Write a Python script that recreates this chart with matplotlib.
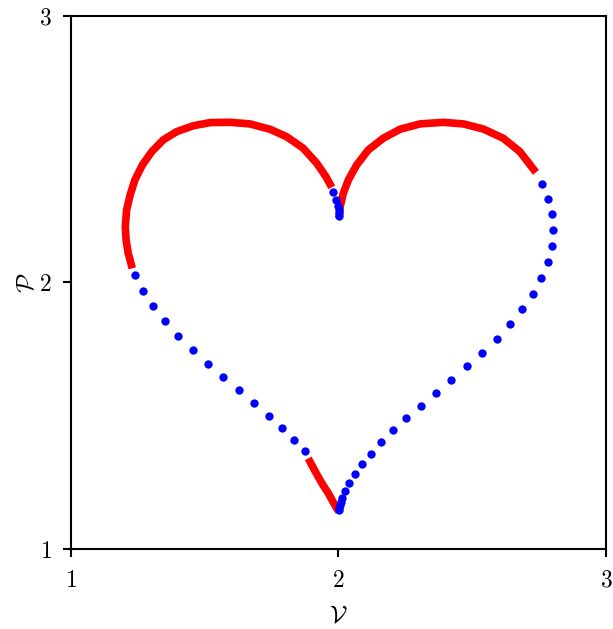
"""
하트 모양 궤적 시각화
"""
import numpy as np
import matplotlib
matplotlib.use('Agg')
import matplotlib.pyplot as plt

plt.rcParams['mathtext.fontset'] = 'cm'
plt.rcParams['font.family'] = ['cmr10', 'DejaVu Sans']
plt.rcParams['axes.formatter.use_mathtext'] = True

# 빨간 실선 구간 (V, P)
left_lobe_v = [1.229, 1.214, 1.206, 1.203, 1.208, 1.221, 1.239, 1.267, 1.302, 1.345,
               1.395, 1.457, 1.520, 1.594, 1.669, 1.744, 1.806, 1.868, 1.919, 1.953, 1.975]
left_lobe_p = [2.053, 2.110, 2.159, 2.209, 2.272, 2.328, 2.385, 2.441, 2.491, 2.535,
               2.566, 2.588, 2.600, 2.601, 2.595, 2.575, 2.547, 2.504, 2.447, 2.397, 2.357]

right_lobe_v = [2.002, 2.006, 2.018, 2.037, 2.068, 2.111, 2.167, 2.230, 2.305, 2.392,
                2.467, 2.541, 2.616, 2.678, 2.738]
right_lobe_p = [2.241, 2.284, 2.335, 2.385, 2.441, 2.497, 2.541, 2.575, 2.595, 2.601,
                2.595, 2.576, 2.541, 2.491, 2.413]

bottom_v = [1.887, 1.905, 1.924, 1.942, 1.962, 1.978, 1.993, 2.002]
bottom_p = [1.340, 1.306, 1.271, 1.240, 1.209, 1.180, 1.153, 1.140]

# 파란 점 구간 (V, P)
dots_top_v = [1.978, 1.991, 1.997, 2.001, 2.003, 2.003]
dots_top_p = [2.338, 2.310, 2.288, 2.272, 2.260, 2.250]

dots_left_v = [1.239, 1.269, 1.308, 1.353, 1.401, 1.456, 1.511, 1.569, 1.628, 1.684,
               1.739, 1.789, 1.834, 1.875]
dots_left_p = [2.028, 1.969, 1.912, 1.856, 1.800, 1.748, 1.695, 1.645, 1.595, 1.547,
               1.500, 1.453, 1.408, 1.367]

dots_right_v = [2.762, 2.784, 2.797, 2.802, 2.797, 2.782, 2.758, 2.727, 2.687, 2.642,
                2.591, 2.536, 2.479, 2.422, 2.363, 2.307, 2.253, 2.205, 2.160, 2.121,
                2.088, 2.060, 2.039, 2.023, 2.013, 2.008, 2.004, 2.002, 2.001]
dots_right_p = [2.370, 2.313, 2.257, 2.197, 2.137, 2.076, 2.017, 1.958, 1.901, 1.844,
                1.789, 1.737, 1.686, 1.635, 1.585, 1.538, 1.490, 1.445, 1.400, 1.358,
                1.318, 1.281, 1.248, 1.217, 1.193, 1.176, 1.164, 1.154, 1.146]

ticks = [1, 2, 3]
tick_labels = ['$1$', '$2$', '$3$']

fig = plt.figure(figsize=(6.13, 6.29), dpi=100)
ax = fig.add_axes([0.1158, 0.1272, 0.8728, 0.8474])

# 실선 구간
for v, p in [(left_lobe_v, left_lobe_p), (right_lobe_v, right_lobe_p), (bottom_v, bottom_p)]:
    ax.plot(v, p, color='red', linewidth=5.5, solid_capstyle='butt',
            solid_joinstyle='round')

# 점 구간 (실선 위에 표시)
for v, p in [(dots_top_v, dots_top_p), (dots_left_v, dots_left_p), (dots_right_v, dots_right_p)]:
    ax.plot(v, p, linestyle='none', marker='o', markersize=6, color='blue',
            markeredgewidth=0)

ax.set_xlim(1, 3)
ax.set_ylim(1, 3)
ax.set_xticks(ticks)
ax.set_yticks(ticks)
ax.set_xticklabels(tick_labels, fontsize=17)
ax.set_yticklabels(tick_labels, fontsize=17)
ax.tick_params(width=1.5, length=6)
ax.tick_params(axis='x', pad=9)
ax.tick_params(axis='y', pad=8)
for spine in ax.spines.values():
    spine.set_linewidth(1.5)

ax.set_xlabel(r'$\mathcal{V}$', fontsize=18, labelpad=10)
ax.set_ylabel(r'$\mathcal{P}$', fontsize=18, labelpad=0)

fig.savefig('out.png', dpi=100)
plt.close(fig)
